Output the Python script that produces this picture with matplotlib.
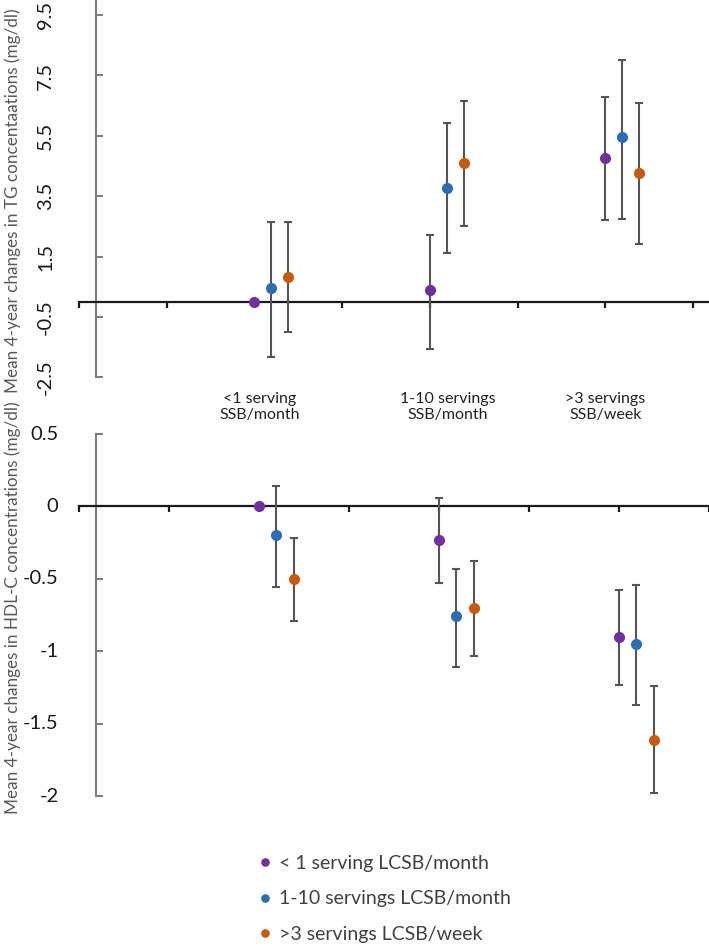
import numpy as np
import matplotlib.pyplot as plt
from matplotlib.lines import Line2D

# SSB intake groups (x categories) and LCSB intake groups (series)
ssb_groups = ['<1 serving\nSSB/month', '1-10 servings\nSSB/month', '>3 servings\nSSB/week']
lcsb_groups = ['< 1 serving LCSB/month', '1-10 servings LCSB/month', '>3 servings LCSB/week']
colors = ['#7030A0', '#2E6DB4', '#C55A11']

# TG changes (mg/dl): one row per LCSB group, one value per SSB group
tg_mean = [[0.00, 0.39, 4.77], [0.45, 3.78, 5.46], [0.81, 4.59, 4.27]]
tg_low = [[0.00, -1.56, 2.71], [-1.82, 1.61, 2.76], [-1.01, 2.52, 1.90]]
tg_high = [[0.00, 2.21, 6.77], [2.63, 5.91, 8.01], [2.63, 6.66, 6.59]]

# HDL-C changes (mg/dl)
hdl_mean = [[0.00, -0.23, -0.90], [-0.20, -0.76, -0.95], [-0.50, -0.70, -1.61]]
hdl_low = [[0.00, -0.53, -1.23], [-0.56, -1.11, -1.37], [-0.79, -1.03, -1.98]]
hdl_high = [[0.00, 0.06, -0.58], [0.14, -0.43, -0.54], [-0.22, -0.38, -1.24]]

tg_ticks = [-2.5, -0.5, 1.5, 3.5, 5.5, 7.5, 9.5]
hdl_ticks = [-2, -1.5, -1, -0.5, 0, 0.5]

plt.rcParams['font.family'] = ['Lato', 'DejaVu Sans']

W, H = 709, 946
fig = plt.figure(figsize=(W / 100, H / 100), dpi=100)


def px_axes(left, top, right, bottom):
    return fig.add_axes([left / W, 1 - bottom / H, (right - left) / W, (bottom - top) / H])


ax1 = px_axes(79, 0, 709, 377.3)
ax2 = px_axes(79, 434, 709, 796)

group_pos = np.array([2, 4, 6])
offsets = [0, 0.19, 0.385]


def style_axis(ax, xmax, ylim, ticks, rotate, pad):
    ax.set_xlim(0, xmax)
    ax.set_ylim(*ylim)
    ax.patch.set_visible(False)
    for s in ['top', 'right']:
        ax.spines[s].set_visible(False)
    ax.spines['left'].set_position(('data', 0.19))
    ax.spines['left'].set_color('#7f7f7f')
    ax.spines['left'].set_linewidth(1.5)
    ax.spines['bottom'].set_position(('data', 0))
    ax.spines['bottom'].set_color('#1a1a1a')
    ax.spines['bottom'].set_linewidth(1.6)
    ax.set_xticks(range(0, int(xmax) + 1))
    ax.set_xticklabels([])
    ax.tick_params(axis='x', direction='out', length=4.5, width=1.6, color='#1a1a1a')
    ax.set_yticks(ticks)
    ax.set_yticklabels([f'{t:g}' for t in ticks], rotation=90 if rotate else 0, va='center')
    ax.tick_params(axis='y', direction='in', length=5, width=1.5, color='#7f7f7f',
                   pad=pad, labelsize=14.5, labelcolor='#1a1a1a')


def draw_points(ax, mean, low, high):
    for i, c in enumerate(colors):
        x = group_pos + offsets[i]
        m = np.array(mean[i])
        lo = np.array(low[i])
        hi = np.array(high[i])
        ax.errorbar(x, m, yerr=[m - lo, hi - m], fmt='o', color=c, ms=8, mec='none',
                    ecolor='#555555', elinewidth=1.5, capsize=3, capthick=1.5,
                    clip_on=False, zorder=3)


style_axis(ax1, 7.18, (-2.5, 10.0), tg_ticks, True, 30)
style_axis(ax2, 7.0, (-2, 0.5), hdl_ticks, False, 27)

draw_points(ax1, tg_mean, tg_low, tg_high)
draw_points(ax2, hdl_mean, hdl_low, hdl_high)

# category labels under the TG panel
label_x = [2.06, 4.2, 6.0]
for x, lab in zip(label_x, ssb_groups):
    ax1.text(x, -3.48, lab, ha='center', va='center', fontsize=11.5, color='#222222',
             linespacing=1.25, clip_on=False)

fig.text(13 / W, 1 - 201 / H, 'Mean 4-year changes in TG concentaations (mg/dl)',
         rotation=90, ha='center', va='center', fontsize=12.3, color='#595959')
fig.text(13 / W, 1 - 608 / H, 'Mean 4-year changes in HDL-C concentrations (mg/dl)',
         rotation=90, ha='center', va='center', fontsize=12.3, color='#595959')

handles = [Line2D([], [], ls='none', marker='o', ms=6.2, color=c, mec='none') for c in colors]
fig.legend(handles, lcsb_groups, loc='upper left', bbox_to_anchor=(260 / W, 1 - 855 / H),
           frameon=False, fontsize=14, labelcolor='#404040', handlelength=0.55,
           handletextpad=0.45, labelspacing=0.95, borderpad=0, borderaxespad=0)

fig.savefig('out.png', dpi=100)
